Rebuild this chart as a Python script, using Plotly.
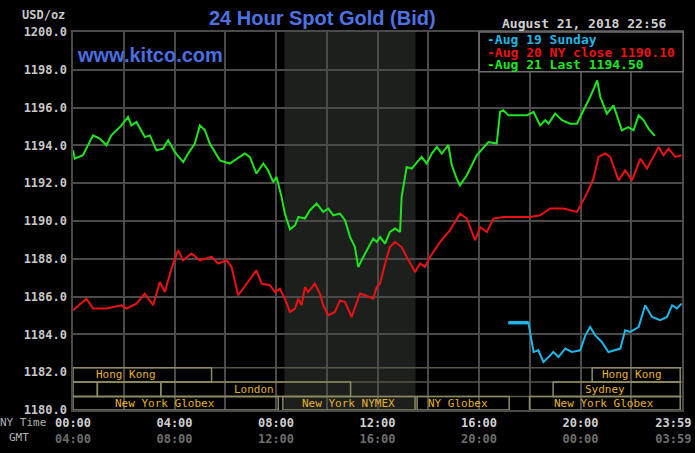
import plotly.graph_objects as go

# ---------------- data (hours NY time, USD/oz) ----------------
green_h = [0.00, 0.07, 0.39, 0.59, 0.79, 1.05, 1.32, 1.51, 1.91, 2.17, 2.30, 2.50, 2.83, 3.03, 3.29, 3.55,
           3.75, 4.01, 4.34, 4.54, 4.80, 5.00, 5.20, 5.39, 5.79, 6.18, 6.45, 6.77, 6.97, 7.23, 7.50, 7.69,
           7.89, 8.02, 8.22, 8.35, 8.55, 8.75, 8.88, 9.14, 9.34, 9.60, 9.86, 10.06, 10.26, 10.52, 10.72,
           10.92, 11.11, 11.24, 11.44, 11.64, 11.83, 11.97, 12.10, 12.30, 12.49, 12.69, 12.89, 12.95,
           13.08, 13.15, 13.35, 13.55, 13.74, 13.94, 14.14, 14.34, 14.53, 14.79, 14.93, 15.12, 15.25,
           15.52, 15.91, 16.37, 16.70, 16.83, 16.96, 17.16, 17.89, 18.15, 18.41, 18.61, 18.74, 19.00,
           19.27, 19.59, 19.86, 20.12, 20.38, 20.66, 20.78, 21.04, 21.30, 21.63, 21.89, 22.09, 22.29,
           22.49, 22.68, 22.93]
green_v = [1193.74, 1193.30, 1193.48, 1194.01, 1194.53, 1194.36, 1194.01, 1194.53, 1195.06, 1195.50,
           1195.06, 1195.24, 1194.44, 1194.53, 1193.74, 1193.83, 1194.27, 1193.65, 1193.12, 1193.57,
           1194.10, 1195.06, 1194.80, 1194.10, 1193.21, 1193.04, 1193.30, 1193.57, 1193.39, 1192.51,
           1193.04, 1192.68, 1192.06, 1192.33, 1191.27, 1190.39, 1189.56, 1189.77, 1190.21, 1190.13,
           1190.57, 1190.92, 1190.48, 1190.66, 1190.30, 1190.39, 1190.04, 1189.15, 1188.62, 1187.57,
           1188.10, 1188.62, 1189.07, 1188.89, 1189.15, 1188.80, 1189.42, 1189.60, 1189.42, 1191.27,
           1192.33, 1192.86, 1192.77, 1193.12, 1193.39, 1193.04, 1193.57, 1193.92, 1193.57, 1194.01,
           1192.95, 1192.24, 1191.89, 1192.42, 1193.48, 1194.18, 1194.10, 1195.77, 1195.86, 1195.59,
           1195.59, 1195.77, 1195.06, 1195.33, 1195.15, 1195.68, 1195.33, 1195.15, 1195.15, 1195.86,
           1196.56, 1197.44, 1196.56, 1195.68, 1196.12, 1194.80, 1194.97, 1194.80, 1195.59, 1195.33,
           1194.89, 1194.50]

red_h = [0.00, 0.53, 0.79, 1.32, 1.91, 2.11, 2.50, 2.83, 3.16, 3.42, 3.62, 3.88, 4.14, 4.34, 4.67, 5.00,
         5.46, 5.72, 6.05, 6.25, 6.51, 7.23, 7.43, 7.76, 7.96, 8.15, 8.35, 8.55, 8.75, 8.88, 9.01, 9.14,
         9.27, 9.53, 9.73, 9.86, 10.06, 10.32, 10.52, 10.72, 10.98, 11.31, 11.51, 11.83, 11.97, 12.10,
         12.30, 12.49, 12.69, 12.95, 13.15, 13.48, 13.68, 13.87, 14.07, 14.47, 14.86, 15.25, 15.52,
         15.85, 16.04, 16.31, 16.57, 16.96, 18.02, 18.41, 18.80, 19.33, 19.86, 20.25, 20.51, 20.71,
         20.97, 21.17, 21.50, 21.76, 22.03, 22.36, 22.62, 23.08, 23.27, 23.47, 23.74, 23.98]
red_v = [1185.28, 1185.89, 1185.37, 1185.37, 1185.54, 1185.37, 1185.63, 1186.16, 1185.54, 1186.77,
         1186.24, 1187.48, 1188.45, 1187.92, 1188.28, 1187.92, 1188.10, 1187.75, 1187.92, 1187.57,
         1186.07, 1187.39, 1186.69, 1186.60, 1186.24, 1186.42, 1185.89, 1185.19, 1185.37, 1185.89,
         1185.54, 1186.51, 1186.24, 1186.69, 1186.16, 1185.54, 1185.01, 1185.19, 1185.80, 1185.71,
         1184.92, 1186.16, 1186.07, 1185.89, 1186.51, 1186.69, 1187.75, 1188.62, 1188.89, 1188.62,
         1188.10, 1187.30, 1187.75, 1187.57, 1188.10, 1188.89, 1189.51, 1190.39, 1190.13, 1188.98,
         1189.68, 1189.42, 1190.13, 1190.21, 1190.21, 1190.30, 1190.66, 1190.66, 1190.48, 1191.45,
         1192.24, 1193.39, 1193.57, 1193.39, 1192.15, 1192.68, 1192.15, 1193.30, 1192.77, 1193.92,
         1193.48, 1193.83, 1193.39, 1193.48]

cyan_h = [17.16, 17.95, 18.02, 18.15, 18.34, 18.54, 18.74, 18.93, 19.13, 19.40, 19.66, 19.99, 20.19,
          20.38, 20.58, 20.84, 21.10, 21.37, 21.57, 21.76, 21.96, 22.29, 22.55, 22.82, 23.14, 23.41,
          23.61, 23.80, 23.98]
cyan_v = [1184.62, 1184.62, 1184.04, 1183.07, 1183.16, 1182.54, 1182.80, 1183.07, 1182.80, 1183.25,
          1183.07, 1183.16, 1183.95, 1184.39, 1183.95, 1183.60, 1183.07, 1183.16, 1183.25, 1184.22,
          1184.13, 1184.39, 1185.54, 1184.92, 1184.75, 1184.92, 1185.54, 1185.37, 1185.63]

ny_close = 1190.10
last_price = 1194.50

y_ticks = [1180, 1182, 1184, 1186, 1188, 1190, 1192, 1194, 1196, 1198, 1200]
x_label_pos = [0, 4, 8, 12, 16, 20, 23.66]
ny_labels = ["00:00", "04:00", "08:00", "12:00", "16:00", "20:00", "23:59"]
gmt_labels = ["04:00", "08:00", "12:00", "16:00", "20:00", "00:00", "03:59"]

# trading sessions: (row, start hour, end hour, label, label hour)
sessions = [
    (1, 0.0, 5.46, "Hong Kong", 2.08),
    (2, 0.0, 0.96, "", 0.5),
    (2, 0.96, 3.46, "", 2.2),
    (2, 3.46, 10.94, "London", 7.13),
    (3, 0.0, 8.09, "New York Globex", 3.62),
    (3, 8.27, 13.48, "New York NYMEX", 10.87),
    (3, 13.56, 17.19, "NY Globex", 15.18),
    (3, 17.99, 23.93, "New York Globex", 20.93),
    (2, 18.92, 23.93, "Sydney", 20.97),
    (1, 20.46, 23.93, "Hong Kong", 22.04),
]
row_bounds = {1: (1181.48, 1182.24), 2: (1180.72, 1181.48), 3: (1180.0, 1180.72)}
nymex_shade = (8.33, 13.5)

# ---------------- styles ----------------
GRID = "#4a4a4a"
GREEN = "#1ee61e"
RED = "#ea1212"
CYAN = "#1fb6e6"
MONO = "DejaVu Sans Mono"
BOX = "#8d8a5e"
GOLD = "#e4b22c"

fig = go.Figure()
fig.add_trace(go.Scatter(x=red_h, y=red_v, mode="lines", line=dict(color=RED, width=2),
                         name="Aug 20 NY close"))
fig.add_trace(go.Scatter(x=green_h, y=green_v, mode="lines", line=dict(color=GREEN, width=2),
                         name="Aug 21 Last"))
fig.add_trace(go.Scatter(x=cyan_h, y=cyan_v, mode="lines", line=dict(color=CYAN, width=2),
                         name="Aug 19 Sunday"))
fig.add_trace(go.Scatter(x=cyan_h[:2], y=cyan_v[:2], mode="lines", line=dict(color=CYAN, width=3.5),
                         name="Aug 19 Sunday open", showlegend=False))
# grid carrier (overlay axes for grid lines)
fig.add_trace(go.Scatter(x=[None], y=[None], xaxis="x2", yaxis="y2", showlegend=False,
                         hoverinfo="skip", mode="lines"))

shapes = []
shapes.append(dict(type="rect", xref="x", yref="y", x0=nymex_shade[0], x1=nymex_shade[1],
                   y0=1180, y1=1200, fillcolor="#1c1f1c", line=dict(width=0), layer="below"))
for r, (lo, hi) in row_bounds.items():
    shapes.append(dict(type="line", xref="x", yref="y", x0=0, x1=24, y0=hi, y1=hi,
                       line=dict(color="#56564a", width=1.5), layer="above"))
annotations = []
for row, s, e, lab, lx in sessions:
    lo, hi = row_bounds[row]
    shapes.append(dict(type="rect", xref="x", yref="y", x0=s, x1=e, y0=lo, y1=hi,
                       line=dict(color=BOX, width=1.5), fillcolor="rgba(0,0,0,0)", layer="above"))
    if lab:
        annotations.append(dict(x=lx, y=(lo + hi) / 2, xref="x", yref="y", text=lab, showarrow=False,
                                font=dict(family=MONO, size=11, color=GOLD), xanchor="center",
                                yanchor="middle"))

# legend box
shapes.append(dict(type="rect", xref="paper", yref="paper", x0=0.667, x1=1.002, y0=0.895, y1=1.0,
                   fillcolor="black", line=dict(color="#6e6e6e", width=1.5), layer="above"))
legend_items = [
    ("-Aug 19 Sunday", CYAN),
    (f"-Aug 20 NY close {ny_close:.2f}", RED),
    (f"-Aug 21 Last {last_price:.2f}", GREEN),
]
for i, (t, c) in enumerate(legend_items):
    annotations.append(dict(x=0.677, y=0.9807 - i * 0.034, xref="paper", yref="paper", text=f"<b>{t}</b>",
                            showarrow=False, xanchor="left", yanchor="middle",
                            font=dict(family=MONO, size=13, color=c)))

annotations += [
    dict(x=0.4105, y=1.036, xref="paper", yref="paper", text="<b>24 Hour Spot Gold (Bid)</b>",
         showarrow=False, xanchor="center", yanchor="middle",
         font=dict(family="Liberation Sans", size=20, color="#4f72e3")),
    dict(x=0.003, y=0.939, xref="paper", yref="paper", text="<b>www.kitco.com</b>",
         showarrow=False, xanchor="left", yanchor="middle",
         font=dict(family="Liberation Sans", size=20, color="#4a6ee0")),
    dict(x=0.9787, y=1.023, xref="paper", yref="paper", text="<b>August 21, 2018 22:56</b>",
         showarrow=False, xanchor="right", yanchor="middle",
         font=dict(family=MONO, size=13, color="#cfcfcf")),
    dict(x=-0.0103, y=1.045, xref="paper", yref="paper", text="<b>USD/oz</b>",
         showarrow=False, xanchor="right", yanchor="middle",
         font=dict(family=MONO, size=12, color="#c8c8c8")),
    dict(x=-0.0406, y=-0.0325, xref="paper", yref="paper", text="NY Time",
         showarrow=False, xanchor="right", yanchor="middle",
         font=dict(family=MONO, size=11, color="#b0b0b0")),
    dict(x=-0.0696, y=-0.0722, xref="paper", yref="paper", text="GMT",
         showarrow=False, xanchor="right", yanchor="middle",
         font=dict(family=MONO, size=11, color="#b0b0b0")),
]

ticktext_x = [f"<b>{a}</b><br><span style='color:#6e6e6e'><b>{b}</b></span>"
              for a, b in zip(ny_labels, gmt_labels)]

fig.update_layout(
    width=695, height=453,
    margin=dict(l=73, r=13, t=32, b=43, pad=0, autoexpand=False),
    paper_bgcolor="black", plot_bgcolor="black",
    showlegend=False,
    xaxis=dict(range=[0, 24], tickvals=x_label_pos, ticktext=ticktext_x, showgrid=False,
               zeroline=False, ticks="", showline=False, automargin=False, ticklabelstandoff=4,
               tickfont=dict(family=MONO, size=12, color="#d0d0d0")),
    yaxis=dict(range=[1180, 1200], tickvals=y_ticks, ticktext=[f"{v:.1f}" for v in y_ticks],
               showgrid=False, zeroline=False, ticks="", showline=False, ticklabelstandoff=5,
               automargin=False,
               tickfont=dict(family=MONO, size=12, color="#c8c8c8", weight="bold")),
    xaxis2=dict(overlaying="x", anchor="y2", range=[0, 24], tickvals=list(range(0, 25, 2)),
                showgrid=True, gridcolor=GRID, gridwidth=1.5, showticklabels=False, zeroline=False,
                showline=True, linecolor=GRID, linewidth=1.5, mirror=True, ticks="", automargin=False),
    yaxis2=dict(overlaying="y", anchor="x2", range=[1180, 1200],
                tickvals=[v for v in y_ticks if v != 1182],
                showgrid=True, gridcolor=GRID, gridwidth=1.5, showticklabels=False, zeroline=False,
                showline=True, linecolor=GRID, linewidth=1.5, mirror=True, ticks="", automargin=False),
    shapes=shapes,
    annotations=annotations,
)

fig.write_html("out.html")
